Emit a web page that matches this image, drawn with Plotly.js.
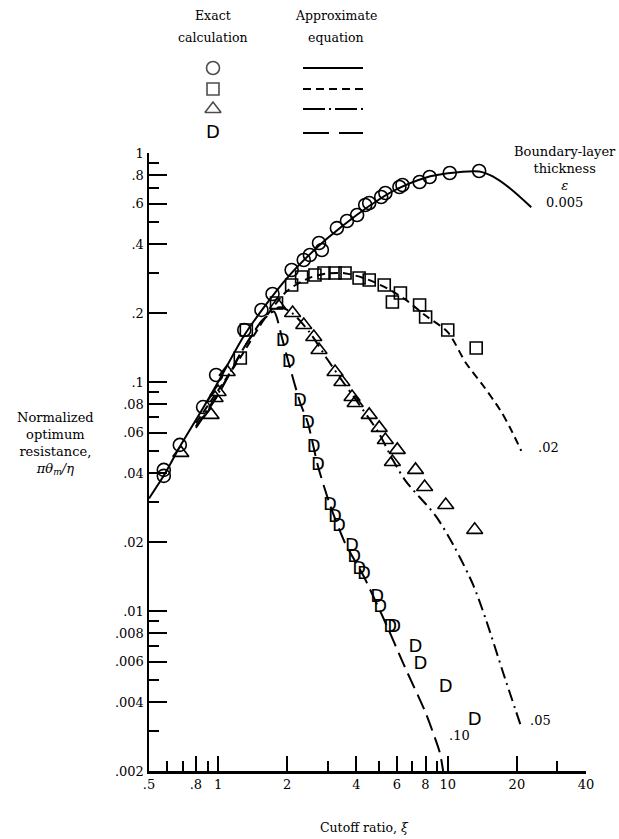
<!DOCTYPE html>
<html>
<head>
<meta charset="utf-8">
<script src="https://cdn.plot.ly/plotly-3.0.1.min.js"></script>
<style>html,body{margin:0;padding:0;background:#fff;}#chart{width:619px;height:839px;}</style>
</head>
<body>
<div id="chart"></div>
<script>
// ---- Exact calculation points ----
const circleX = [0.58, 0.58, 0.681, 0.86, 0.98, 1.30, 1.544, 1.725, 2.09, 2.36, 2.51, 2.75, 2.83, 3.29, 3.64, 4.03, 4.37, 4.55, 5.13, 5.35, 6.16, 6.35, 7.54, 8.34, 10.2, 13.7];
const circleY = [0.0413, 0.0389, 0.0531, 0.0777, 0.1073, 0.1687, 0.2063, 0.2422, 0.3083, 0.341, 0.3585, 0.4046, 0.3771, 0.470, 0.5046, 0.5361, 0.5929, 0.605, 0.6425, 0.6689, 0.7103, 0.7248, 0.747, 0.7855, 0.8178, 0.8345];

const squareX = [1.249, 1.327, 1.796, 2.09, 2.31, 2.64, 2.89, 3.23, 3.57, 4.11, 4.55, 5.29, 5.74, 6.22, 7.54, 8.01, 10.0, 13.3];
const squareY = [0.1273, 0.1687, 0.2213, 0.2652, 0.2874, 0.2933, 0.2992, 0.2992, 0.2992, 0.2844, 0.2789, 0.2652, 0.2235, 0.2446, 0.2169, 0.1922, 0.1687, 0.1408];

const triangleX = [0.688, 0.932, 0.970, 1.0, 1.095, 1.815, 2.11, 2.36, 2.61, 2.75, 3.23, 3.46, 3.83, 3.95, 4.55, 5.03, 5.35, 6.03, 5.74, 7.24, 7.93, 9.80, 13.1];
const triangleY = [0.049, 0.0718, 0.0851, 0.0904, 0.1106, 0.2169, 0.2001, 0.1773, 0.1572, 0.1379, 0.1106, 0.100, 0.086, 0.081, 0.0718, 0.063, 0.0558, 0.0505, 0.0447, 0.0413, 0.0348, 0.029, 0.0226];

const dX = [1.909, 2.03, 2.27, 2.46, 2.61, 2.72, 3.07, 3.23, 3.36, 3.83, 3.91, 4.11, 4.32, 4.93, 5.08, 5.62, 5.85, 7.24, 7.61, 9.80, 13.1];
const dY = [0.1495, 0.1211, 0.0818, 0.0662, 0.0515, 0.043, 0.029, 0.0255, 0.0233, 0.0192, 0.0172, 0.0151, 0.0144, 0.0115, 0.0104, 0.00843, 0.00851, 0.0069, 0.00581, 0.00461, 0.00334];

// ---- Approximate equation curves ----
const eq005X = [0.5, 0.58, 0.68, 0.86, 1.0, 1.3, 1.6, 2.0, 2.5, 3.0, 4.0, 5.0, 6.0, 8.0, 10, 13.7, 15.7, 18.7, 23.1];
const eq005Y = [0.031, 0.039, 0.052, 0.077, 0.10, 0.16, 0.215, 0.285, 0.36, 0.425, 0.535, 0.625, 0.695, 0.78, 0.815, 0.83, 0.79, 0.70, 0.58];

const eq02X = [0.8, 1.0, 1.25, 1.6, 2.0, 2.5, 3.0, 3.6, 4.5, 5.5, 6.5, 8.0, 10, 12, 14.2, 16.9, 18.7, 20.9];
const eq02Y = [0.066, 0.092, 0.128, 0.19, 0.25, 0.285, 0.298, 0.298, 0.28, 0.255, 0.23, 0.195, 0.165, 0.121, 0.097, 0.0755, 0.063, 0.050];

const eq05X = [0.8, 1.0, 1.3, 1.6, 1.85, 2.1, 2.5, 3.0, 3.5, 4.0, 5.0, 5.74, 6.55, 8.86, 10.7, 12.9, 14.7, 17.4, 20.7];
const eq05Y = [0.064, 0.089, 0.142, 0.19, 0.212, 0.20, 0.165, 0.125, 0.10, 0.083, 0.06, 0.046, 0.037, 0.026, 0.019, 0.013, 0.0091, 0.0054, 0.0032];

const eq10X = [0.8, 1.0, 1.3, 1.55, 1.75, 1.9, 2.03, 2.27, 2.46, 2.72, 3.07, 3.57, 4.3, 5.35, 6.5, 8.0, 9.22, 9.55];
const eq10Y = [0.063, 0.088, 0.142, 0.185, 0.203, 0.155, 0.121, 0.0818, 0.0662, 0.043, 0.029, 0.0198, 0.0142, 0.0089, 0.0057, 0.0036, 0.00242, 0.002];

// ---- Tick labels ----
const xTickVals = [0.5, 0.8, 1, 2, 4, 6, 8, 10, 20, 40];
const xTickText = ['.5', '.8', '1', '2', '4', '6', '8', '10', '20', '40'];
const xMinorVals = [0.6, 0.7, 0.9, 3, 5, 7, 9, 30];
const yTickVals = [1, 0.8, 0.6, 0.4, 0.2, 0.1, 0.08, 0.06, 0.04, 0.02, 0.01, 0.008, 0.006, 0.004, 0.002];
const yTickText = ['1', '.8', '.6', '.4', '.2', '.1', '.08', '.06', '.04', '.02', '.01', '.008', '.006', '.004', '.002'];
const yMinorVals = [0.9, 0.7, 0.5, 0.3, 0.09, 0.07, 0.05, 0.03, 0.009, 0.007, 0.005, 0.003];

// ---- Legend rows ----
const legendRows = [85, 64, 44, 20];
const legendMarkerX = 213;
const legendLineX = [303, 363];

const serif = 'DejaVu Serif, Liberation Serif, serif';
const markerLine = {color: '#000', width: 1.6};
const dFont = {family: 'DejaVu Sans, sans-serif', size: 18, color: '#000'};

const traces = [
  {x: eq005X, y: eq005Y, mode: 'lines', line: {color: '#000', width: 2, shape: 'spline', smoothing: 0.8}, hoverinfo: 'skip'},
  {x: eq02X, y: eq02Y, mode: 'lines', line: {color: '#000', width: 2, dash: '8px,5px', shape: 'spline', smoothing: 0.8}, hoverinfo: 'skip'},
  {x: eq05X, y: eq05Y, mode: 'lines', line: {color: '#000', width: 2, dash: '12px,5px,2px,5px', shape: 'spline', smoothing: 0.8}, hoverinfo: 'skip'},
  {x: eq10X, y: eq10Y, mode: 'lines', line: {color: '#000', width: 2, dash: '16px,7px', shape: 'spline', smoothing: 0.6}, hoverinfo: 'skip'},
  {x: circleX, y: circleY, mode: 'markers', marker: {symbol: 'circle-open', size: 13, color: '#000', line: markerLine}},
  {x: squareX, y: squareY, mode: 'markers', marker: {symbol: 'square-open', size: 12, color: '#000', line: markerLine}},
  {x: triangleX, y: triangleY, mode: 'markers', marker: {symbol: 'triangle-up-open', size: 14, color: '#000', line: markerLine}},
  {x: dX, y: dY, mode: 'text', text: dX.map(() => 'D'), textposition: 'middle center', textfont: dFont},
  // legend: markers
  {x: [legendMarkerX, legendMarkerX, legendMarkerX], y: legendRows.slice(0, 3), xaxis: 'x2', yaxis: 'y2', mode: 'markers',
   marker: {symbol: ['circle-open', 'square-open', 'triangle-up-open'], size: [13, 12, 14], color: '#000', line: markerLine}},
  {x: [legendMarkerX], y: [legendRows[3]], xaxis: 'x2', yaxis: 'y2', mode: 'text', text: ['D'], textposition: 'middle center', textfont: dFont},
  // legend: lines
  {x: legendLineX, y: [legendRows[0], legendRows[0]], xaxis: 'x2', yaxis: 'y2', mode: 'lines', line: {color: '#000', width: 2}},
  {x: legendLineX, y: [legendRows[1], legendRows[1]], xaxis: 'x2', yaxis: 'y2', mode: 'lines', line: {color: '#000', width: 2, dash: '8px,5px'}},
  {x: legendLineX, y: [legendRows[2], legendRows[2]], xaxis: 'x2', yaxis: 'y2', mode: 'lines', line: {color: '#000', width: 2, dash: '22px,4px,2px,4px'}},
  {x: legendLineX, y: [legendRows[3], legendRows[3]], xaxis: 'x2', yaxis: 'y2', mode: 'lines', line: {color: '#000', width: 2, dash: '26px,10px'}}
];

const yDomTop = (771 - 153) / 761;
const px = v => (v - 149) / 437;      // paper x from pixel
const py = v => (771 - v) / 761;      // paper y from pixel

function note(x, y, text, size, ref) {
  return {xref: ref ? 'x' : 'paper', yref: ref ? 'y' : 'paper', x: x, y: y, text: text, showarrow: false,
          xanchor: 'center', yanchor: 'middle', align: 'center', font: {family: serif, size: size, color: '#000'}};
}

const layout = {
  width: 619, height: 839,
  margin: {l: 149, r: 33, t: 10, b: 68},
  paper_bgcolor: '#fff', plot_bgcolor: 'rgba(0,0,0,0)',
  showlegend: false,
  font: {family: serif, color: '#000', size: 13},
  xaxis: {
    type: 'log', range: [Math.log10(0.5), Math.log10(40)], domain: [0, 1], anchor: 'y',
    tickmode: 'array', tickvals: xTickVals, ticktext: xTickText,
    ticks: 'inside', ticklen: 15, tickwidth: 2, tickcolor: '#000',
    minor: {tickmode: 'array', tickvals: xMinorVals, ticks: 'inside', ticklen: 10, tickwidth: 2, tickcolor: '#000', showgrid: false},
    showline: true, linewidth: 2.5, linecolor: '#000', showgrid: false, zeroline: false,
    tickfont: {family: serif, size: 13, color: '#000'}
  },
  yaxis: {
    type: 'log', range: [Math.log10(0.002), 0], domain: [0, yDomTop], anchor: 'x',
    tickmode: 'array', tickvals: yTickVals, ticktext: yTickText,
    ticks: 'inside', ticklen: 18, tickwidth: 2, tickcolor: '#000',
    minor: {tickmode: 'array', tickvals: yMinorVals, ticks: 'inside', ticklen: 10, tickwidth: 2, tickcolor: '#000', showgrid: false},
    showline: true, linewidth: 2.5, linecolor: '#000', showgrid: false, zeroline: false,
    tickfont: {family: serif, size: 13, color: '#000'}
  },
  xaxis2: {range: [149, 586], domain: [0, 1], anchor: 'y2', visible: false, fixedrange: true},
  yaxis2: {range: [0, 143], domain: [yDomTop, 1], anchor: 'x2', visible: false, fixedrange: true},
  annotations: [
    note(px(213), py(15), 'Exact', 12.5),
    note(px(213), py(37), 'calculation', 12.5),
    note(px(336), py(15), 'Approximate', 12.5),
    note(px(336), py(37), 'equation', 12.5),
    note(px(565), py(177), 'Boundary-layer<br>thickness<br><i>ε</i><br>0.005', 13),
    note(px(55), py(444), 'Normalized<br>optimum<br>resistance,<br><i>πθ<sub>m</sub>/η</i>', 13),
    note(px(364), py(827), 'Cutoff ratio, <i>ξ</i>', 12.5),
    note(Math.log10(27.5), Math.log10(0.052), '.02', 13, true),
    note(Math.log10(25.3), Math.log10(0.00334), '.05', 13, true),
    note(Math.log10(11.3), Math.log10(0.00287), '.10', 13, true)
  ]
};

Plotly.newPlot('chart', traces, layout, {displayModeBar: false, staticPlot: true});
</script>
</body>
</html>
